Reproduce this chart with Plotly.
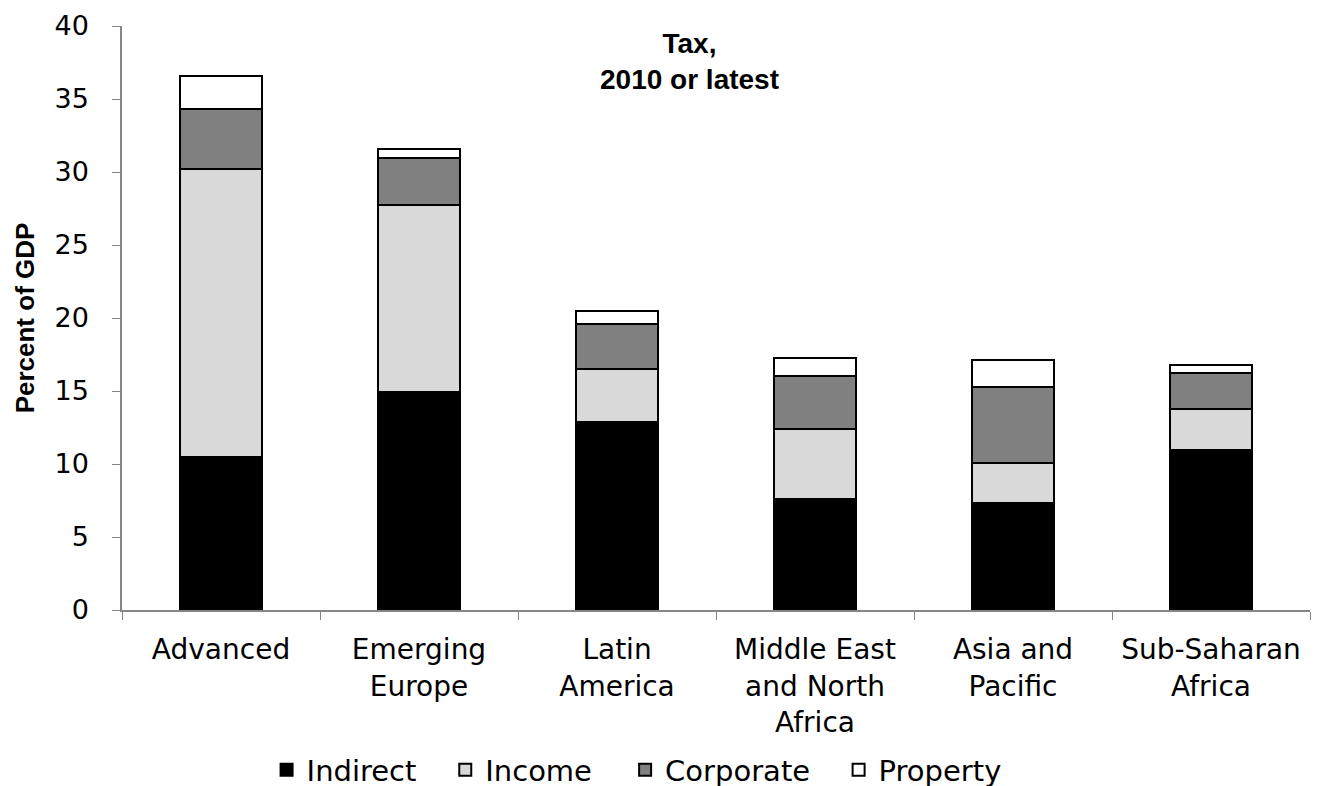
import plotly.graph_objects as go

categories = ["Advanced", "Emerging<br>Europe", "Latin<br>America",
              "Middle East<br>and North<br>Africa", "Asia and<br>Pacific", "Sub-Saharan<br>Africa"]
indirect = [10.5, 14.9, 12.9, 7.6, 7.3, 10.95]
income = [19.7, 12.85, 3.6, 4.8, 2.8, 2.85]
corporate = [4.1, 3.2, 3.1, 3.65, 5.15, 2.4]
property_ = [2.25, 0.6, 0.9, 1.2, 1.9, 0.6]

series = [("Indirect", indirect, "#000000"),
          ("Income", income, "#d9d9d9"),
          ("Corporate", corporate, "#808080"),
          ("Property", property_, "#ffffff")]
legend_ids = ["legend", "legend2", "legend3", "legend4"]
legend_x = [0.1217, 0.2721, 0.4235, 0.6032]

fig = go.Figure()
for (name, vals, col), lid in zip(series, legend_ids):
    fig.add_trace(go.Bar(x=categories, y=vals, name=name, marker_color=col,
                         marker_line=dict(color="#000000", width=2), legend=lid))

font_bold = "Liberation Sans, Arial, sans-serif"
font_wide = "DejaVu Sans, Liberation Sans, sans-serif"
legend_cfg = {}
for lid, lx in zip(legend_ids, legend_x):
    legend_cfg[lid] = dict(orientation="h", x=lx, xanchor="left", y=-0.274, yanchor="middle",
                           font=dict(family=font_wide, size=29), itemwidth=30,
                           bgcolor="rgba(0,0,0,0)")
fig.update_layout(
    barmode="stack", bargap=0.585,
    width=1328, height=786,
    paper_bgcolor="white", plot_bgcolor="white",
    margin=dict(l=114, r=26, t=18, b=184, autoexpand=False),
    font=dict(family=font_wide, size=28, color="#000000"),
    showlegend=True,
    **legend_cfg,
)
fig.update_yaxes(range=[0, 40], dtick=5, showgrid=False, showline=True,
                 linecolor="#868686", linewidth=1.5, ticks="outside", ticklen=8,
                 tickcolor="#868686", tickfont=dict(size=27, family=font_wide),
                 automargin=False, ticklabelstandoff=18, ticklabeloverflow="allow",
                 title=dict(text="<b>Percent of GDP</b>",
                            font=dict(size=26, family=font_bold), standoff=12),
                 zeroline=False)
fig.update_xaxes(showline=True, linecolor="#868686", linewidth=1.5, ticks="outside",
                 tickson="boundaries", ticklen=8, tickcolor="#868686", automargin=False,
                 ticklabelstandoff=14, ticklabeloverflow="allow",
                 tickfont=dict(size=28, family=font_wide), showgrid=False)
fig.add_annotation(x=0.478, y=1.0, xref="paper", yref="paper", yanchor="top",
                   text="<b>Tax,<br>2010 or latest</b>", showarrow=False,
                   font=dict(size=28, family=font_bold), align="center")
fig.write_html("out.html")
